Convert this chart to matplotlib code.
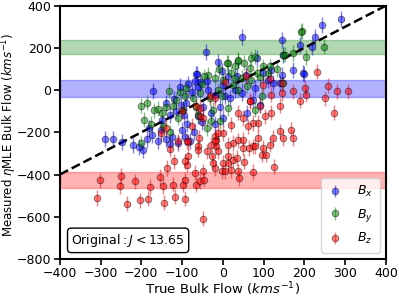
import numpy as np
import matplotlib
matplotlib.use("Agg")
import matplotlib.pyplot as plt

# true vs measured bulk flow
bx = [(-290,-230),(-270,-230),(-248,-245),(-221,-258),(-205,-270),(-195,-282),(-175,-215),
      (-160,-240),(-152,-190),(-140,-230),(-125,-220),(-110,-250),(-100,-190),(-93,-220),
      (-88,-160),(-80,-240),(-70,-200),(-62,-125),(-172,-2),(-64,77),(-56,40),(-42,180),
      (-13,135),(46,253),(-65,76),(-106,17),(-85,28),(-69,41),(-61,17),(-40,44),(-36,1),
      (-3,89),(13,65),(1,25),(-20,-22),(5,-30),(17,-38),(46,-14),(34,65),(58,72),(83,151),
      (79,9),(74,-46),(-102,-70),(-48,-78),(-7,-78),(91,-70),(144,238),(189,214),(218,206),
      (226,253),(148,167),(172,96),(144,72),(197,80),(119,96),(99,80),(123,33),(140,33),
      (289,336),(243,309),(199,77),(-130,-120),(-115,-100),(-90,-60),(-50,-150),(-30,-110),
      (-20,-160),(0,-130),(-120,-40),(-140,-60),(30,0),(-75,-10),(-95,-120),(60,-110),
      (110,50),(-150,-140),(-180,-180),(-186,-234),(-130,-255)]
by = [(-202,-74),(-186,-60),(-194,-140),(-176,-160),(-159,-88),(-200,-253),(-132,-2),
      (-122,-74),(-147,-172),(-140,-80),(-169,-96),(194,280),(248,206),(205,156),(172,176),
      (12,129),(37,140),(52,130),(115,112),(148,167),(133,100),(-28,-148),(-7,-148),(-20,57),
      (-36,72),(-46,65),(37,143),(29,112),(11,128),(66,105),(70,49),(46,57),(25,25),(37,1),
      (-12,1),(-3,-30),(-32,-38),(-56,-14),(-73,-38),(-93,-30),(-114,-46),(-97,-93),(-24,-93),
      (13,-85),(79,-93),(95,-30),(70,151),(29,57),(193,277),(152,167),(79,159),(83,80),
      (148,33),(99,112),(-60,-120),(-110,-130),(-130,-200),(-150,-110),(-40,-180),(-90,10),
      (-65,-80),(0,50),(60,20),(110,80),(-105,-10),(-50,30),(-10,100),(20,80),(90,60)]
bz = [(-302,-427),(-310,-511),(-251,-405),(-253,-456),(-216,-432),(-236,-538),(-204,-522),
      (-183,-515),(-179,-459),(-155,-412),(-148,-456),(-144,-534),(-138,-369),(-120,-337),
      (-123,-448),(-118,-506),(-93,-514),(-93,-424),(-97,-448),(-89,-353),(-85,-314),
      (-69,-392),(-65,-448),(-55,-432),(-48,-385),(-47,-424),(-48,-610),(-26,-314),(-20,-369),
      (-1,-385),(1,-345),(13,-345),(21,-380),(25,-330),(34,-322),(40,-417),(52,-340),(73,-388),
      (125,-363),(99,-274),(95,-306),(107,-306),(115,-259),(148,-227),(73,-266),(79,-266),
      (65,-274),(50,-274),(37,-238),(25,-251),(13,-259),(-16,-235),(-16,-266),(-12,-290),
      (-20,-219),(-58,-227),(-85,-248),(-93,-337),(-24,-345),(37,-385),(5,-385),(140,-74),
      (119,-108),(103,-124),(91,-74),(66,-51),(87,-156),(74,-156),(62,-172),(50,-132),
      (37,-108),(21,-164),(1,-203),(50,-235),(87,-227),(123,-227),(172,-227),(168,-188),
      (140,-196),(-61,-266),(-20,-243),(-12,-203),(-28,-259),(13,-314),(-48,-132),(-65,-77),
      (-56,-124),(-152,-203),(-110,-243),(-89,-243),(-61,-282),(-56,-85),(230,88),(171,-6),
      (201,9),(205,-22),(189,-51),(258,20),(250,-38),(279,-6),(307,-6),(273,-108),(115,53),
      (144,33),(5,37),(58,65),(-32,-30),(-20,-38),(66,-54),(99,25),(119,-22),(144,-14),
      (-100,-100),(-130,-280),(-75,-170),(-40,-290),(-140,-180)]
err = {"x": 38, "y": 36, "z": 36}

bands = {"x": (-35, 50), "y": (172, 236), "z": (-465, -390)}

fig = plt.figure(figsize=(3.99, 2.99), dpi=100)
ax = fig.add_axes([0.150, 0.134, 0.817, 0.847])

ax.axhspan(*bands["y"], color="g", alpha=0.3, lw=1)
ax.axhspan(*bands["x"], color="b", alpha=0.3, lw=1)
ax.axhspan(*bands["z"], color="r", alpha=0.3, lw=1)

for key, pts, c, lab in [("x", bx, "b", "$B_x$"), ("y", by, "g", "$B_y$"), ("z", bz, "r", "$B_z$")]:
    a = np.array(pts, dtype=float)
    ax.errorbar(a[:, 0], a[:, 1], yerr=err[key], fmt="o", color=c, ecolor=c,
                mec="k", mew=0.6, ms=4.8, alpha=0.5, elinewidth=1, label=lab)

ax.plot([-400, 400], [-400, 400], "k--", lw=1.8)

ax.set_xlim(-400, 400)
ax.set_ylim(-800, 400)
ax.set_xticks(np.arange(-400, 401, 100))
ax.set_yticks(np.arange(-800, 401, 200))
ax.tick_params(labelsize=9, width=1.2, length=4, pad=2)
for s in ax.spines.values():
    s.set_linewidth(1.5)

ax.set_xlabel(r"True Bulk Flow $(kms^{-1})$", fontsize=9.5, labelpad=0)
ax.set_ylabel(r"Measured $\eta$MLE Bulk Flow $(kms^{-1})$", fontsize=8.5)
ax.yaxis.set_label_coords(-0.125, 0.49)

ax.legend(loc="lower right", fontsize=9, handlelength=1.2, handletextpad=1.2,
          borderpad=0.5, labelspacing=0.6)

ax.text(-372, -712, r"$\mathrm{Original}: J < 13.65$", fontsize=9, va="center",
        bbox=dict(boxstyle="round,pad=0.3", fc="white", ec="k", lw=1))

fig.savefig("out.png", dpi=100)
